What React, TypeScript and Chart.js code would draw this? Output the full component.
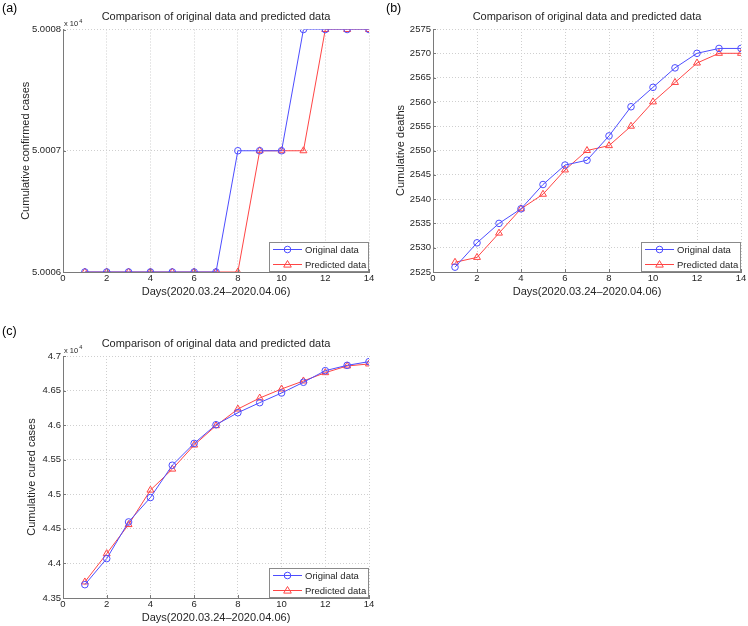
import React, { useEffect, useRef } from 'react';
import { Chart, registerables } from 'chart.js';

Chart.register(...registerables);

// ---- data ----
const days = [1, 2, 3, 4, 5, 6, 7, 8, 9, 10, 11, 12, 13, 14];
const xTicks = [0, 2, 4, 6, 8, 10, 12, 14];

const confirmedOriginal = [50006, 50006, 50006, 50006, 50006, 50006, 50006, 50007, 50007, 50007, 50008, 50008, 50008, 50008];
const confirmedPredicted = [50006, 50006, 50006, 50006, 50006, 50006, 50006, 50006, 50007, 50007, 50007, 50008, 50008, 50008];
const confirmedTicks = [50006, 50007, 50008];

const deathsOriginal = [2526, 2531, 2535, 2538, 2543, 2547, 2548, 2553, 2559, 2563, 2567, 2570, 2571, 2571];
const deathsPredicted = [2527, 2528, 2533, 2538, 2541, 2546, 2550, 2551, 2555, 2560, 2564, 2568, 2570, 2570];
const deathsTicks = [2525, 2530, 2535, 2540, 2545, 2550, 2555, 2560, 2565, 2570, 2575];

const curedOriginal = [43693, 44070, 44600, 44953, 45420, 45736, 46006, 46180, 46325, 46465, 46620, 46788, 46865, 46918];
const curedPredicted = [43732, 44142, 44562, 45060, 45364, 45712, 45992, 46233, 46392, 46523, 46639, 46759, 46856, 46885];
const curedTicks = [43500, 44000, 44500, 45000, 45500, 46000, 46500, 47000];

const seriesNames = ['Original data', 'Predicted data'];
const panelLabels = ['(a)', '(b)', '(c)'];
const chartTitle = 'Comparison of original data and predicted data';
const xTitle = 'Days(2020.03.24\u20132020.04.06)';
const yTitles = ['Cumulative confirmed cases', 'Cumulative deaths', 'Cumulative cured cases'];

const FONT = '"Liberation Sans", Arial, Helvetica, sans-serif';
const TEXT = '#262626';
const AXIS = '#7a7a7a';
const BLUE = '#4d4dff';
const RED = '#ff4545';

type Panel = {
  left: number; top: number; w: number; h: number;
  caLeft: number; caRight: number; caTop: number; caBottom: number;
  yTitleX: number; labelX: number; labelY: number; titleY: number;
  exponent: boolean;
  label: string; yTitle: string;
  orig: number[]; pred: number[]; yTicks: number[];
  fmt: (v: number) => string;
};

const fmtConfirmed = (v: number) => (v / 10000).toFixed(4);
const fmtDeaths = (v: number) => String(v);
const fmtCured = (v: number) => String(parseFloat((v / 10000).toFixed(2)));

const panels: Panel[] = [
  { left: 0, top: 0, w: 374, h: 300, caLeft: 63, caRight: 370, caTop: 29.5, caBottom: 272,
    yTitleX: 26, labelX: 2, labelY: 8.5, titleY: 17, exponent: true,
    label: panelLabels[0], yTitle: yTitles[0], orig: confirmedOriginal, pred: confirmedPredicted, yTicks: confirmedTicks, fmt: fmtConfirmed },
  { left: 374, top: 0, w: 374, h: 300, caLeft: 59, caRight: 367, caTop: 29, caBottom: 272,
    yTitleX: 26.7, labelX: 12, labelY: 8.5, titleY: 17, exponent: false,
    label: panelLabels[1], yTitle: yTitles[1], orig: deathsOriginal, pred: deathsPredicted, yTicks: deathsTicks, fmt: fmtDeaths },
  { left: 0, top: 300, w: 374, h: 326, caLeft: 63, caRight: 370, caTop: 56, caBottom: 298,
    yTitleX: 32, labelX: 2, labelY: 32, titleY: 44, exponent: true,
    label: panelLabels[2], yTitle: yTitles[2], orig: curedOriginal, pred: curedPredicted, yTicks: curedTicks, fmt: fmtCured },
];

function drawMarker(ctx: CanvasRenderingContext2D, style: string, x: number, y: number, r: number, color: string) {
  ctx.save();
  ctx.strokeStyle = color;
  ctx.lineWidth = 1;
  ctx.beginPath();
  if (style === 'triangle') {
    ctx.moveTo(x, y - r);
    ctx.lineTo(x + r * 0.95, y + r * 0.65);
    ctx.lineTo(x - r * 0.95, y + r * 0.65);
    ctx.closePath();
  } else {
    ctx.arc(x, y, r, 0, Math.PI * 2);
  }
  ctx.stroke();
  ctx.restore();
}

const overlayPlugin = {
  id: 'overlay',
  afterDatasetsDraw(chart: any) {
    // inward tick marks (MATLAB style)
    const { ctx, chartArea: ca, scales } = chart;
    ctx.save();
    ctx.strokeStyle = AXIS;
    ctx.lineWidth = 1;
    ctx.beginPath();
    scales.x.ticks.forEach((t: any) => {
      const x = Math.round(scales.x.getPixelForValue(t.value)) + 0.5;
      ctx.moveTo(x, ca.bottom);
      ctx.lineTo(x, ca.bottom - 3);
    });
    scales.y.ticks.forEach((t: any) => {
      const y = Math.round(scales.y.getPixelForValue(t.value)) + 0.5;
      ctx.moveTo(ca.left, y);
      ctx.lineTo(ca.left + 3, y);
    });
    ctx.stroke();
    ctx.restore();
  },
  afterDraw(chart: any, _args: any, opts: any) {
    const { ctx, chartArea: ca } = chart;
    ctx.save();
    ctx.fillStyle = '#000';
    ctx.font = `12.5px ${FONT}`;
    ctx.textAlign = 'left';
    ctx.textBaseline = 'middle';
    ctx.fillText(opts.label, opts.labelX, opts.labelY);

    ctx.fillStyle = TEXT;
    ctx.font = `11px ${FONT}`;
    ctx.textAlign = 'center';
    ctx.fillText(chartTitle, (ca.left + ca.right) / 2, opts.titleY);

    if (opts.exponent) {
      ctx.textAlign = 'left';
      ctx.textBaseline = 'alphabetic';
      ctx.font = `7.5px ${FONT}`;
      const base = 'x 10';
      const x0 = ca.left + 1;
      ctx.fillText(base, x0, ca.top - 3.5);
      const w = ctx.measureText(base).width;
      ctx.font = `5.5px ${FONT}`;
      ctx.fillText('4', x0 + w + 1, ca.top - 7);
    }

    // legend
    const lw = 100, lh = 30;
    const lx = ca.right - lw, ly = ca.bottom - lh;
    ctx.fillStyle = '#fff';
    ctx.fillRect(lx, ly, lw, lh);
    ctx.strokeStyle = '#8a8a8a';
    ctx.lineWidth = 1;
    ctx.strokeRect(Math.round(lx) + 0.5, Math.round(ly) + 0.5, lw - 1, lh - 1);
    chart.data.datasets.forEach((ds: any, i: number) => {
      const y = ly + 7.5 + i * 15;
      ctx.strokeStyle = ds.borderColor;
      ctx.lineWidth = 1;
      ctx.beginPath();
      ctx.moveTo(lx + 4, y);
      ctx.lineTo(lx + 33, y);
      ctx.stroke();
      drawMarker(ctx, ds.pointStyle, lx + 18.5, y, ds.pointRadius, ds.borderColor);
      ctx.fillStyle = TEXT;
      ctx.font = `9.5px ${FONT}`;
      ctx.textAlign = 'left';
      ctx.textBaseline = 'middle';
      ctx.fillText(ds.label, lx + 36, y + 0.5);
    });
    ctx.restore();
  },
};

function PanelChart({ p }: { p: Panel }) {
  const ref = useRef<HTMLCanvasElement>(null);
  useEffect(() => {
    const canvas = ref.current!;
    const grid = { color: '#cfcfcf', drawTicks: false, lineWidth: 1 };
    const border = { color: AXIS, width: 1, dash: [1, 2] };
    const chart = new Chart(canvas, {
      type: 'line',
      data: {
        datasets: [
          {
            label: seriesNames[0],
            data: days.map((d, i) => ({ x: d, y: p.orig[i] })),
            borderColor: BLUE, backgroundColor: 'transparent', borderWidth: 1,
            pointStyle: 'circle', pointRadius: 3.3, pointBorderWidth: 1,
            pointBackgroundColor: 'transparent', pointBorderColor: BLUE, tension: 0, fill: false,
          },
          {
            label: seriesNames[1],
            data: days.map((d, i) => ({ x: d, y: p.pred[i] })),
            borderColor: RED, backgroundColor: 'transparent', borderWidth: 1,
            pointStyle: 'triangle', pointRadius: 4, pointBorderWidth: 1,
            pointBackgroundColor: 'transparent', pointBorderColor: RED, tension: 0, fill: false,
          },
        ],
      } as any,
      options: {
        responsive: false,
        animation: false,
        devicePixelRatio: 1,
        layout: { padding: { top: p.caTop, right: p.w - p.caRight, bottom: 0, left: 0 } },
        plugins: {
          legend: { display: false },
          title: { display: false },
          tooltip: { enabled: false },
          overlay: {
            label: p.label, labelX: p.labelX, labelY: p.labelY, titleY: p.titleY, exponent: p.exponent,
          },
        } as any,
        scales: {
          x: {
            type: 'linear', min: 0, max: 14,
            afterBuildTicks: (s: any) => { s.ticks = xTicks.map((v) => ({ value: v })); },
            ticks: { font: { size: 9.5, family: FONT }, color: TEXT, padding: 1, maxRotation: 0, autoSkip: false },
            grid, border,
            title: { display: true, text: xTitle, color: TEXT, font: { size: 11, family: FONT }, padding: { top: 0, bottom: 1.4 } },
            afterFit: (s: any) => { s.height = p.h - p.caBottom; s.paddingLeft = 0; s.paddingRight = 0; },
          },
          y: {
            type: 'linear', min: p.yTicks[0], max: p.yTicks[p.yTicks.length - 1],
            afterBuildTicks: (s: any) => { s.ticks = p.yTicks.map((v) => ({ value: v })); },
            ticks: { font: { size: 9.5, family: FONT }, color: TEXT, padding: 2, autoSkip: false, callback: (v: any) => p.fmt(Number(v)) },
            grid, border,
            title: { display: true, text: p.yTitle, color: TEXT, font: { size: 11, family: FONT }, padding: { top: p.yTitleX - 6.6, bottom: 0 } },
            afterFit: (s: any) => { s.width = p.caLeft; s.paddingTop = 0; s.paddingBottom = 0; },
          },
        },
      } as any,
      plugins: [overlayPlugin as any],
    });
    return () => chart.destroy();
  }, [p]);
  return (
    <canvas
      ref={ref}
      width={p.w}
      height={p.h}
      style={{ position: 'absolute', left: p.left, top: p.top, width: p.w, height: p.h }}
    />
  );
}

export default function App() {
  return (
    <div style={{ position: 'absolute', left: 0, top: 0, width: 748, height: 626, background: '#fff', overflow: 'hidden' }}>
      {panels.map((p, i) => (
        <PanelChart key={i} p={p} />
      ))}
    </div>
  );
}
